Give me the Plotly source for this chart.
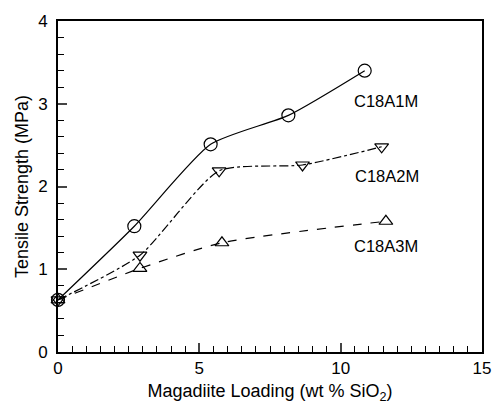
import plotly.graph_objects as go

x_a1 = [0, 2.7, 5.4, 8.15, 10.85]
y_a1 = [0.63, 1.52, 2.51, 2.86, 3.40]
x_a2 = [0, 2.9, 5.7, 8.65, 11.45]
y_a2 = [0.63, 1.17, 2.19, 2.26, 2.48]
x_a3 = [0, 2.9, 5.8, 11.6]
y_a3 = [0.63, 1.01, 1.32, 1.58]
labels = ["C18A1M", "C18A2M", "C18A3M"]
label_x = [11.6, 11.65, 11.6]
label_y = [3.03, 2.13, 1.28]

font = "Liberation Sans, Arial, sans-serif"
fig = go.Figure()
fig.add_trace(go.Scatter(x=x_a1, y=y_a1, mode="lines+markers", cliponaxis=False,
    line=dict(color="black", width=1.2, shape="spline", smoothing=0.6),
    marker=dict(symbol="circle-open", size=13, color="black", line=dict(width=1.2))))
fig.add_trace(go.Scatter(x=x_a2, y=y_a2, mode="lines+markers", cliponaxis=False,
    line=dict(color="black", width=1.2, dash="dashdot", shape="spline", smoothing=0.6),
    marker=dict(symbol="triangle-down-open", size=12, color="black", line=dict(width=1.2))))
fig.add_trace(go.Scatter(x=x_a3, y=y_a3, mode="lines+markers", cliponaxis=False,
    line=dict(color="black", width=1.2, dash="dash", shape="spline", smoothing=0.6),
    marker=dict(symbol="triangle-up-open", size=12, color="black", line=dict(width=1.2))))
for t, lx, ly in zip(labels, label_x, label_y):
    fig.add_annotation(x=lx, y=ly, text=t, showarrow=False,
                       font=dict(family=font, size=16.5, color="black"))

fig.update_layout(
    width=493, height=405, showlegend=False,
    margin=dict(l=58, r=11, t=21, b=53),
    paper_bgcolor="white", plot_bgcolor="white",
    font=dict(family=font, color="black"),
)
fig.update_xaxes(range=[0, 15], tickvals=[0, 5, 10, 15], ticks="inside", ticklen=9,
    tickwidth=1.5, showline=True, linecolor="black", linewidth=2, mirror=True,
    showgrid=False, zeroline=False, tickfont=dict(family=font, size=17, color="black"),
    automargin=False,
    minor=dict(ticks="inside", dtick=0.5, ticklen=6, tickwidth=1, tickcolor="black"),
    title=dict(text="Magadiite Loading (wt % SiO<sub>2</sub>)",
               font=dict(family=font, size=18, color="black"), standoff=7))
fig.update_yaxes(range=[0, 4], tickvals=[0, 1, 2, 3, 4], ticks="inside", ticklen=9,
    tickwidth=1.5, showline=True, linecolor="black", linewidth=2, mirror=True,
    showgrid=False, zeroline=False, tickfont=dict(family=font, size=17, color="black"),
    ticklabelstandoff=5, automargin=False,
    minor=dict(ticks="inside", dtick=0.2, ticklen=6, tickwidth=1, tickcolor="black"),
    title=dict(text="Tensile Strength (MPa)",
               font=dict(family=font, size=18, color="black"), standoff=5))
fig.write_html("out.html", config={"displayModeBar": False},
               post_script="document.body.style.margin='0';document.body.style.overflow='hidden';")
